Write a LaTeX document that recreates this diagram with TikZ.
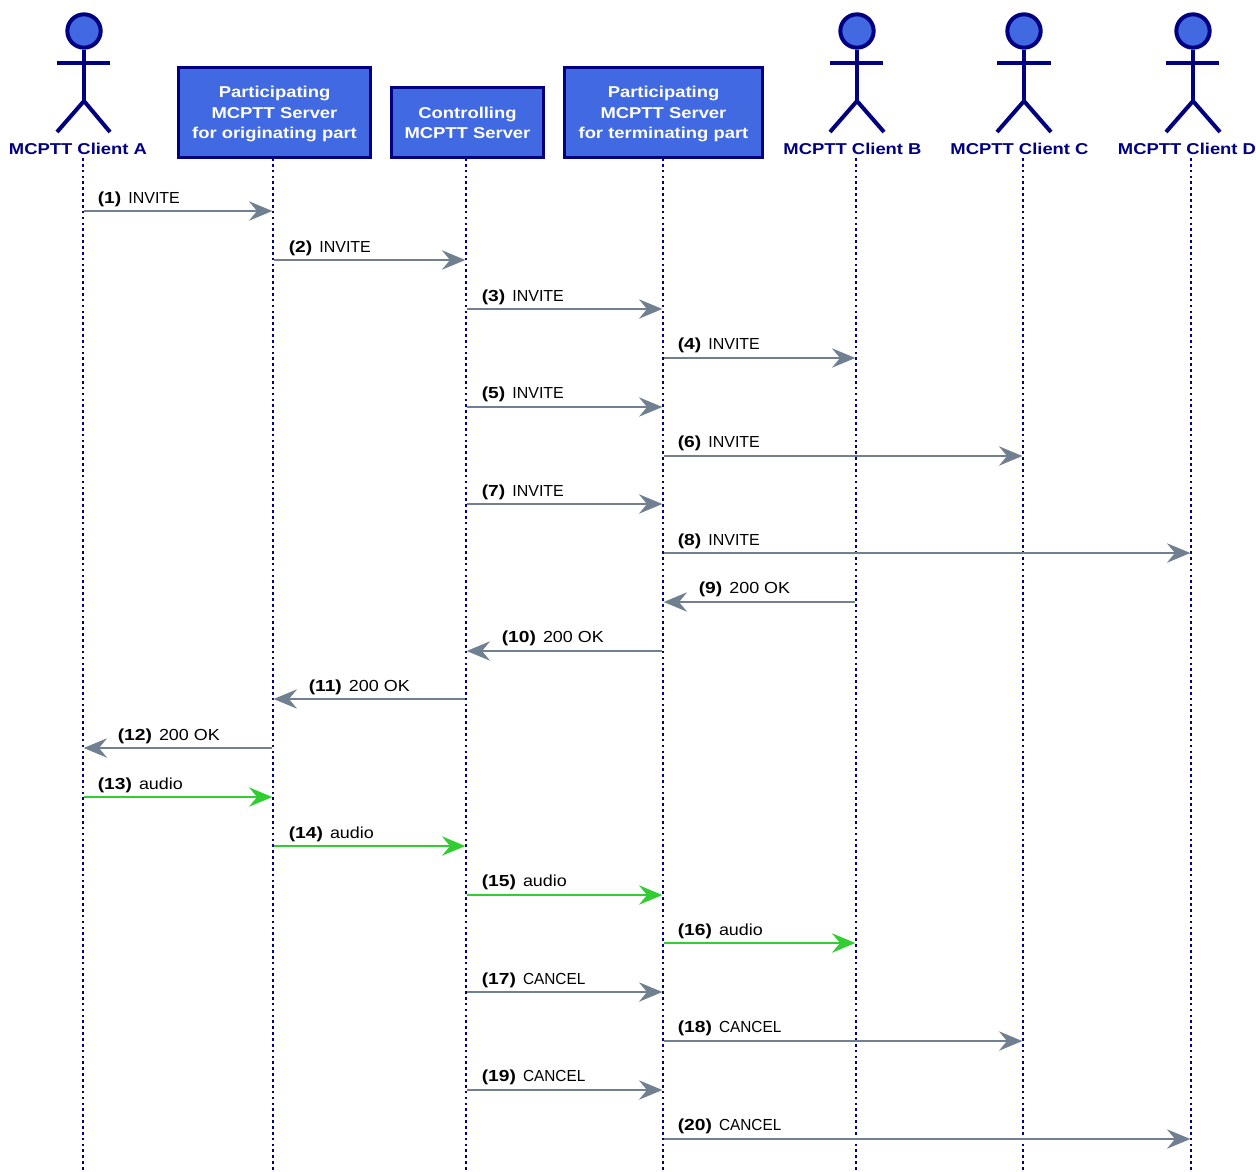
\documentclass[tikz,border=0pt]{standalone}
\usepackage[svgnames]{xcolor}
\usepackage{fontspec}
\usepackage{tikz}
\usetikzlibrary{arrows.meta}
\setmainfont{Liberation Sans}
\newfontfamily\headfont[FakeStretch=1.17]{Liberation Sans}
\newfontfamily\numfont[FakeStretch=1.2]{Liberation Sans}
\newfontfamily\widefont[FakeStretch=1.12]{Liberation Sans}
\newfontfamily\slimfont[FakeStretch=0.96]{Liberation Sans}
\newcommand{\signum}[1]{{\numfont\bfseries #1}\hspace{2pt} }
\definecolor{sigGray}{RGB}{112,128,144}
\definecolor{sigGreen}{RGB}{50,205,50}
\definecolor{partBlue}{RGB}{65,105,225}
\definecolor{partNavy}{RGB}{0,0,128}
\begin{document}
\begin{tikzpicture}[x=0.75pt,y=-0.75pt]%
  \tikzset{normal arrow/.style={draw,-{Stealth[length=17.5pt,width=14.5pt,inset=6pt]},line width=1.8pt,sigGray,shorten >=0.5pt,shorten <=1pt}}
  \tikzset{audio arrow/.style={normal arrow,sigGreen}}
  \tikzset{lifeline/.style={draw,partNavy,line width=2pt,dash pattern=on 2pt off 2.4pt}}
  \tikzset{stick/.style={draw,partNavy,line width=3pt}}
  \tikzset{head/.style={circle,draw=partNavy,fill=partBlue,line width=3pt,minimum size=25pt,inner sep=0pt}}
  \tikzset{actor name/.style={text=partNavy,inner sep=0pt,font=\headfont\bfseries\fontsize{11.8}{14}\selectfont}}
  \tikzset{server/.style={rectangle,draw=partNavy,fill=partBlue,line width=2.25pt,text=white,inner sep=0pt,align=center,minimum height=67.5pt,font=\headfont\bfseries\fontsize{11.8}{15.4}\selectfont}}
  \tikzset{msg/.style={anchor=base west,inner sep=0pt,text=black,font=\fontsize{12}{14}\selectfont}}
  \useasboundingbox (0,0) rectangle (1256,1171);

  \coordinate (Atop) at (83,158);
  \coordinate (Porigtop) at (273,158);
  \coordinate (Ctrltop) at (466,158);
  \coordinate (Ptermtop) at (663,158);
  \coordinate (Btop) at (856,158);
  \coordinate (Ctop) at (1023,158);
  \coordinate (Dtop) at (1191,158);
  \coordinate (Abot) at (83,1171);
  \coordinate (Porigbot) at (273,1171);
  \coordinate (Ctrlbot) at (466,1171);
  \coordinate (Ptermbot) at (663,1171);
  \coordinate (Bbot) at (856,1171);
  \coordinate (Cbot) at (1023,1171);
  \coordinate (Dbot) at (1191,1171);

  \path[lifeline] (Atop) -- (Abot);
  \path[lifeline] (Porigtop) -- (Porigbot);
  \path[lifeline] (Ctrltop) -- (Ctrlbot);
  \path[lifeline] (Ptermtop) -- (Ptermbot);
  \path[lifeline] (Btop) -- (Bbot);
  \path[lifeline] (Ctop) -- (Cbot);
  \path[lifeline] (Dtop) -- (Dbot);

  \node[server, minimum width=144pt] at (274.5,112) (Porig) {\rule{0pt}{11.6pt}Participating\\MCPTT Server\\for originating part};
  \node[server, minimum width=114.5pt, minimum height=52.5pt] at (467.5,122) (Ctrl) {\rule{0pt}{10.2pt}Controlling\\MCPTT Server};
  \node[server, minimum width=149pt] at (663.5,112) (Pterm) {\rule{0pt}{11.6pt}Participating\\MCPTT Server\\for terminating part};

  % actors
  \node[head] at (84,31) (Ahead) {};
  \coordinate (Ahip) at (84,101);
  \path[stick] (Ahead) -- (Ahip);
  \path[stick] (57,63) -- (110,63);
  \path[stick] (57,132) -- (Ahip) -- (110,132);
  \node[actor name] at (78,148.5) (Aname) {MCPTT Client A};

  \node[head] at (857,31) (Bhead) {};
  \coordinate (Bhip) at (857,101);
  \path[stick] (Bhead) -- (Bhip);
  \path[stick] (830,63) -- (883,63);
  \path[stick] (830,132) -- (Bhip) -- (884,132);
  \node[actor name] at (852.5,148.5) (Bname) {MCPTT Client B};

  \node[head] at (1024,31) (Chead) {};
  \coordinate (Chip) at (1024,101);
  \path[stick] (Chead) -- (Chip);
  \path[stick] (997,63) -- (1051,63);
  \path[stick] (997,132) -- (Chip) -- (1051,132);
  \node[actor name] at (1019.5,148.5) (Cname) {MCPTT Client C};

  \node[head] at (1193,31) (Dhead) {};
  \coordinate (Dhip) at (1193,101);
  \path[stick] (Dhead) -- (Dhip);
  \path[stick] (1166,63) -- (1219,63);
  \path[stick] (1166,132) -- (Dhip) -- (1220,132);
  \node[actor name] at (1187,148.5) (Dname) {MCPTT Client D};

  % signal rows
  \coordinate (r1) at (0,211);
  \coordinate (r2) at (0,260);
  \coordinate (r3) at (0,309);
  \coordinate (r4) at (0,358);
  \coordinate (r5) at (0,407);
  \coordinate (r6) at (0,456);
  \coordinate (r7) at (0,504);
  \coordinate (r8) at (0,553);
  \coordinate (r9) at (0,602);
  \coordinate (r10) at (0,651);
  \coordinate (r11) at (0,699);
  \coordinate (r12) at (0,748);
  \coordinate (r13) at (0,797);
  \coordinate (r14) at (0,846);
  \coordinate (r15) at (0,895);
  \coordinate (r16) at (0,943);
  \coordinate (r17) at (0,992);
  \coordinate (r18) at (0,1041);
  \coordinate (r19) at (0,1090);
  \coordinate (r20) at (0,1139);

  \path[normal arrow] (Atop |- r1) -- (Porigtop |- r1);
  \path[normal arrow] (Porigtop |- r2) -- (Ctrltop |- r2);
  \path[normal arrow] (Ctrltop |- r3) -- (Ptermtop |- r3);
  \path[normal arrow] (Ptermtop |- r4) -- (Btop |- r4);
  \path[normal arrow] (Ctrltop |- r5) -- (Ptermtop |- r5);
  \path[normal arrow] (Ptermtop |- r6) -- (Ctop |- r6);
  \path[normal arrow] (Ctrltop |- r7) -- (Ptermtop |- r7);
  \path[normal arrow] (Ptermtop |- r8) -- (Dtop |- r8);
  \path[normal arrow] (Btop |- r9) -- (Ptermtop |- r9);
  \path[normal arrow] (Ptermtop |- r10) -- (Ctrltop |- r10);
  \path[normal arrow] (Ctrltop |- r11) -- (Porigtop |- r11);
  \path[normal arrow] (Porigtop |- r12) -- (Atop |- r12);
  \path[audio arrow] (Atop |- r13) -- (Porigtop |- r13);
  \path[audio arrow] (Porigtop |- r14) -- (Ctrltop |- r14);
  \path[audio arrow] (Ctrltop |- r15) -- (Ptermtop |- r15);
  \path[audio arrow] (Ptermtop |- r16) -- (Btop |- r16);
  \path[normal arrow] (Ctrltop |- r17) -- (Ptermtop |- r17);
  \path[normal arrow] (Ptermtop |- r18) -- (Ctop |- r18);
  \path[normal arrow] (Ctrltop |- r19) -- (Ptermtop |- r19);
  \path[normal arrow] (Ptermtop |- r20) -- (Dtop |- r20);

  \node[msg] at (97.5,203) (l1) {\signum{(1)}INVITE};
  \node[msg] at (288.5,252) (l2) {\signum{(2)}INVITE};
  \node[msg] at (481.5,301) (l3) {\signum{(3)}INVITE};
  \node[msg] at (677.5,349) (l4) {\signum{(4)}INVITE};
  \node[msg] at (481.5,398) (l5) {\signum{(5)}INVITE};
  \node[msg] at (677.5,447) (l6) {\signum{(6)}INVITE};
  \node[msg] at (481.5,496) (l7) {\signum{(7)}INVITE};
  \node[msg] at (677.5,545) (l8) {\signum{(8)}INVITE};
  \node[msg] at (698.5,593) (l9) {\signum{(9)}{\widefont 200 OK}};
  \node[msg] at (501.5,642) (l10) {\signum{(10)}{\widefont 200 OK}};
  \node[msg] at (308.5,691) (l11) {\signum{(11)}{\widefont 200 OK}};
  \node[msg] at (117.5,740) (l12) {\signum{(12)}{\widefont 200 OK}};
  \node[msg] at (97.5,789) (l13) {\signum{(13)}{\widefont audio}};
  \node[msg] at (288.5,838) (l14) {\signum{(14)}{\widefont audio}};
  \node[msg] at (481.5,886) (l15) {\signum{(15)}{\widefont audio}};
  \node[msg] at (677.5,935) (l16) {\signum{(16)}{\widefont audio}};
  \node[msg] at (481.5,984) (l17) {\signum{(17)}{\slimfont CANCEL}};
  \node[msg] at (677.5,1032) (l18) {\signum{(18)}{\slimfont CANCEL}};
  \node[msg] at (481.5,1081) (l19) {\signum{(19)}{\slimfont CANCEL}};
  \node[msg] at (677.5,1130) (l20) {\signum{(20)}{\slimfont CANCEL}};
\end{tikzpicture}
\end{document}
